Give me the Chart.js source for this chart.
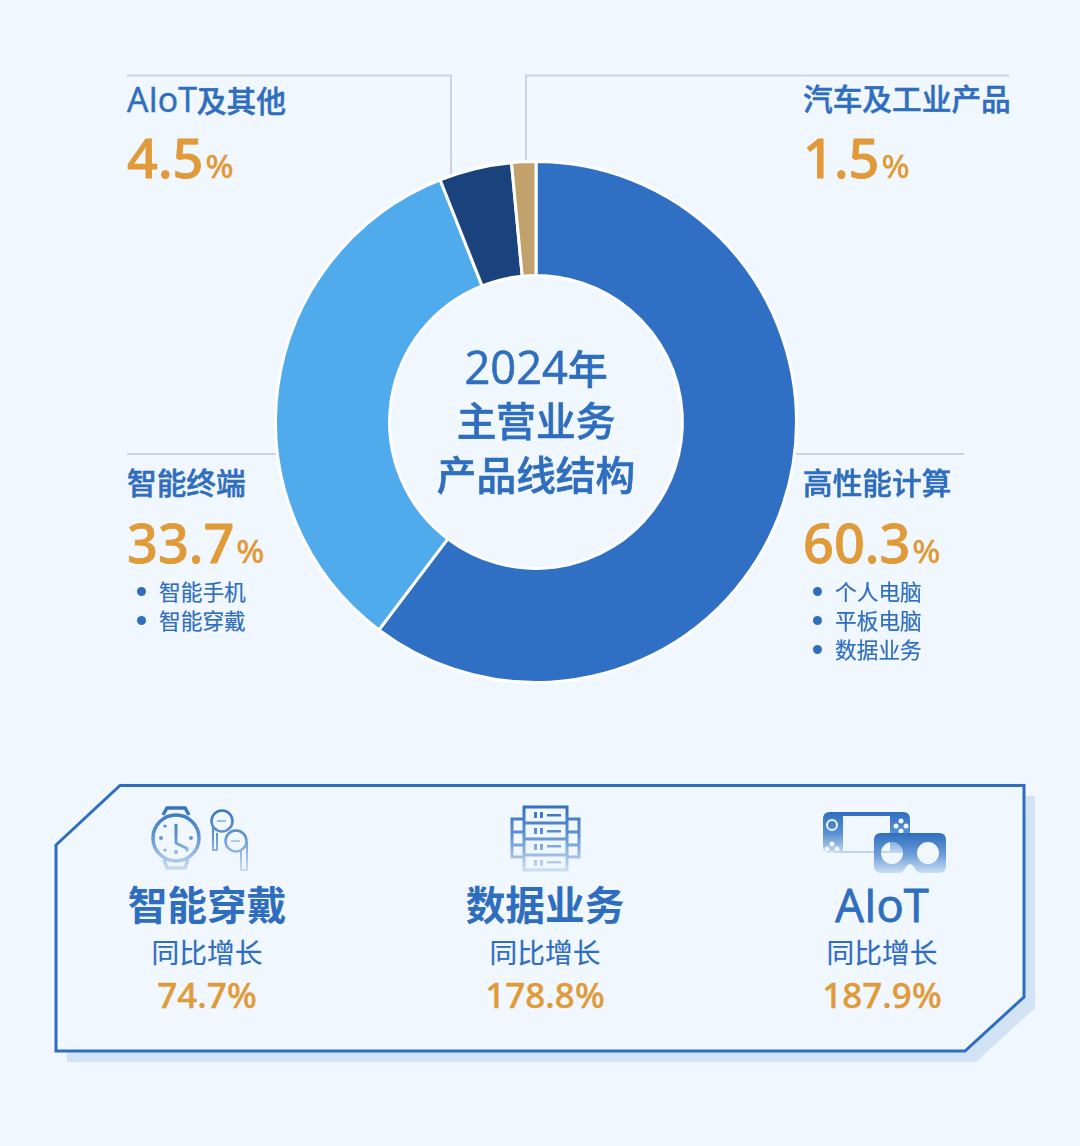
<!DOCTYPE html>
<html lang="zh-CN">
<head>
    <meta charset="UTF-8">
    <title>2024年主营业务产品线结构</title>
    <style>
        html, body {
            margin: 0;
            padding: 0;
            width: 1080px;
            height: 1146px;
            overflow: hidden;
            background-color: #f1f7fe;
            font-family: "Noto Sans", "Noto Sans CJK SC", sans-serif;
        }
        #art, #chartBox { position: absolute; left: 0; top: 0; }
        #chartBox { left: 266px; top: 152px; width: 540px; height: 540px; }
        .t { position: absolute; white-space: nowrap; color: #2f6ebf; }
        .t b { font-family: "Open Sans", "Noto Sans", sans-serif; font-weight: 500; font-size: 1.14em; }
        .name { font-size: 29.7px; line-height: 40px; font-weight: 500; -webkit-text-stroke: 0.5px #2f6ebf; }
        .pct { font-size: 54px; line-height: 64px; font-weight: 500; color: #e09a38; -webkit-text-stroke: 0.8px #e09a38; }
        .pct span { font-size: 33px; margin-left: 2px; font-weight: 500; -webkit-text-stroke: 0.3px #e09a38; }
        .sub { font-size: 21.7px; line-height: 29px; -webkit-text-stroke: 0.2px #2f6ebf; }
        .sub i { position: absolute; left: -22px; top: 10px; width: 9px; height: 9px; border-radius: 50%; background: #2f6ebf; }
        .centre { left: 386px; width: 300px; text-align: center; font-size: 39.7px; line-height: 54px; font-weight: 500; -webkit-text-stroke: 0.6px #2f6ebf; }
        .g { width: 300px; text-align: center; }
        .gname { font-size: 39.7px; line-height: 50px; font-weight: 700; }
        .gname b { -webkit-text-stroke: 0.9px #2f6ebf; }
        .gsub { font-size: 27.7px; line-height: 36px; -webkit-text-stroke: 0.2px #2f6ebf; }
        .gval { font-size: 35px; line-height: 44px; font-weight: 500; color: #e09a38; -webkit-text-stroke: 0.4px #e09a38; }
    </style>
    <script src="https://cdn.jsdelivr.net/npm/chart.js"></script>
</head>
<body>
    <svg id="art" width="1080" height="1146" viewBox="0 0 1080 1146" xmlns="http://www.w3.org/2000/svg">
        <defs>
            <linearGradient id="fade" gradientUnits="userSpaceOnUse" x1="0" y1="804" x2="0" y2="874">
                <stop offset="0" stop-color="#2f6ebf"/>
                <stop offset="0.45" stop-color="#5f93d2"/>
                <stop offset="1" stop-color="#d5e5f7"/>
            </linearGradient>
            <linearGradient id="fadeConsole" gradientUnits="userSpaceOnUse" x1="0" y1="812" x2="0" y2="856">
                <stop offset="0" stop-color="#2f6ebf"/>
                <stop offset="0.5" stop-color="#5c91d2"/>
                <stop offset="1" stop-color="#d5e5f7"/>
            </linearGradient>
            <linearGradient id="fadeVr" gradientUnits="userSpaceOnUse" x1="0" y1="833" x2="0" y2="875">
                <stop offset="0" stop-color="#2f6ebf"/>
                <stop offset="0.5" stop-color="#6a9bd7"/>
                <stop offset="1" stop-color="#d5e5f7"/>
            </linearGradient>
        </defs>
        <!-- leader lines -->
        <g fill="none" stroke="#c9d3e1" stroke-width="2">
            <path d="M127 75.5H451V182"/>
            <path d="M526 165V75.5H1009"/>
            <path d="M127 454H278"/>
            <path d="M794 454H964"/>
        </g>
        <!-- panel -->
        <path d="M67 856L131 796H1035V1008L976 1062H67Z" fill="#d3e3f6"/>
        <path d="M56 845L120 785.5H1024V997L965 1051H56Z" fill="#f1f7fe" stroke="#2f6ebf" stroke-width="3"/>
        <!-- watch and earbuds -->
        <g fill="none" stroke="url(#fade)" stroke-width="3.5">
            <circle cx="176" cy="838" r="23"/>
            <path d="M163 815L167 808H185L189 815"/>
            <path d="M164 860L167 868H185L188 860"/>
            <path d="M176 824V843L188 849" stroke-width="3"/>
            <circle cx="222" cy="821" r="10.5" stroke-width="2.5"/>
            <path d="M213 828V850H217V833" stroke-width="2"/>
            <circle cx="236" cy="841" r="10.5" stroke-width="2.5"/>
            <path d="M241 851V870H247V842" stroke-width="2"/>
        </g>
        <g fill="url(#fade)">
            <circle cx="161" cy="838" r="2"/><circle cx="191" cy="838" r="2"/>
            <circle cx="165" cy="826" r="1.6"/><circle cx="165" cy="850" r="1.6"/>
            <circle cx="187" cy="850" r="1.6"/><circle cx="176" cy="852" r="2"/>
            <rect x="217" y="820.5" width="9" height="1"/>
            <rect x="231" y="840.5" width="9" height="1"/>
        </g>
        <!-- server rack -->
        <g fill="none" stroke="url(#fade)" stroke-width="3">
            <rect x="524" y="807" width="43" height="63"/>
            <path d="M524 823H567M524 839H567M524 855H567"/>
            <path d="M523 819H512V857H523M512 832H523M512 845H523"/>
            <path d="M568 819H579V857H568M568 832H579M568 845H579"/>
        </g>
        <g fill="url(#fade)">
            <rect x="534" y="812" width="3" height="6"/><rect x="540" y="812" width="3" height="6"/><rect x="547" y="814" width="14" height="2.5"/>
            <rect x="534" y="828" width="3" height="6"/><rect x="540" y="828" width="3" height="6"/><rect x="547" y="830" width="14" height="2.5"/>
            <rect x="534" y="844" width="3" height="6"/><rect x="540" y="844" width="3" height="6"/><rect x="547" y="845" width="14" height="2.5"/>
            <rect x="534" y="860" width="3" height="6"/><rect x="540" y="860" width="3" height="6"/><rect x="547" y="861" width="14" height="2.5"/>
        </g>
        <!-- console and headset -->
        <path fill-rule="evenodd" fill="url(#fadeConsole)" d="M830 812H903Q910 812 910 819V846Q910 853 903 853H830Q823 853 823 846V819Q823 812 830 812ZM843 816V851H890V816Z"/>
        <g fill="#f1f7fe">
            <circle cx="901" cy="821" r="2.5"/><circle cx="901" cy="831" r="2.5"/><circle cx="896" cy="826" r="2.5"/><circle cx="906" cy="826" r="2.5"/>
            <circle cx="832" cy="844" r="2.5"/><circle cx="827" cy="849" r="2.5"/><circle cx="837" cy="849" r="2.5"/><circle cx="832" cy="854" r="2.5"/>
        </g>
        <circle cx="832" cy="825" r="5" fill="none" stroke="#f1f7fe" stroke-width="2"/>
        <path fill-rule="evenodd" fill="url(#fadeVr)" d="M881 833H939Q946 833 946 840V866Q946 873 939 873H922Q917 873 914 867Q910 861 906 867Q903 873 898 873H881Q874 873 874 866V840Q874 833 881 833ZM892 842A11 11 0 1 0 892 864A11 11 0 1 0 892 842ZM928 842A11 11 0 1 0 928 864A11 11 0 1 0 928 842Z"/>
    </svg>

    <div id="chartBox"><canvas id="donut" width="540" height="540"></canvas></div>
    <div id="labels"></div>

    <script>
        const sliceNames = ['高性能计算', '智能终端', 'AIoT及其他', '汽车及工业产品'];
        const sliceValues = [60.3, 33.7, 4.5, 1.5];
        const sliceColors = ['#3070c4', '#4fabeb', '#1a427d', '#c1a26d'];
        const sliceItems = [['个人电脑', '平板电脑', '数据业务'], ['智能手机', '智能穿戴'], [], []];
        const titleLines = ['2024年', '主营业务', '产品线结构'];
        const growthNames = ['智能穿戴', '数据业务', 'AIoT'];
        const growthSub = '同比增长';
        const growthValues = [74.7, 178.8, 187.9];

        new Chart(document.getElementById('donut'), {
            type: 'doughnut',
            data: {
                labels: sliceNames,
                datasets: [{
                    data: sliceValues,
                    backgroundColor: sliceColors,
                    borderColor: '#ffffff',
                    borderWidth: 3
                }]
            },
            options: {
                responsive: false,
                animation: false,
                cutout: '56.2%',
                layout: { padding: 8 },
                plugins: { legend: { display: false }, tooltip: { enabled: false } }
            }
        });

        // where each block of text sits
        const sliceBoxes = [[803, 463], [127, 463], [127, 79], [803, 79]];
        const growthCentres = [207, 545, 882];
        const labels = document.getElementById('labels');

        // latin words run larger than the CJK next to them
        function markLatin(str) {
            return str.replace(/[A-Za-z0-9]+/g, '<b>$&</b>');
        }

        function addText(cls, left, top, html) {
            const el = document.createElement('div');
            el.className = 't ' + cls;
            if (left !== null) el.style.left = left + 'px';
            el.style.top = top + 'px';
            el.innerHTML = html;
            labels.appendChild(el);
            return el;
        }

        sliceNames.forEach((name, i) => {
            const [x, y] = sliceBoxes[i];
            addText('name', x, y, markLatin(name));
            addText('pct', x, y + (i > 1 ? 46 : 47), sliceValues[i].toFixed(1) + '<span>%</span>');
            sliceItems[i].forEach((item, k) => {
                addText('sub', x + 32, y + 114 + k * 29, '<i></i>' + item);
            });
        });

        titleLines.forEach((line, i) => addText('centre', null, 340 + i * 54, markLatin(line)));

        growthNames.forEach((name, i) => {
            const x = growthCentres[i] - 150;
            addText('g gname', x, 880, markLatin(name));
            addText('g gsub', x, 934, growthSub);
            addText('g gval', x, 973, growthValues[i].toFixed(1) + '%');
        });
    </script>
</body>
</html>
